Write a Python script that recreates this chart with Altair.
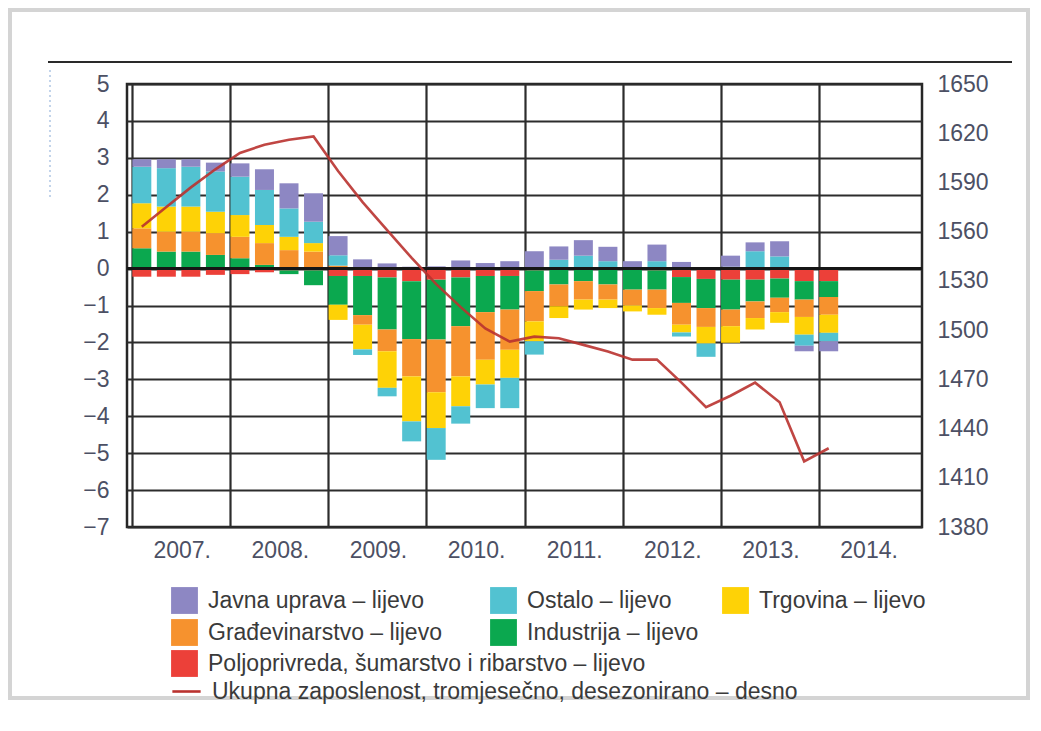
import altair as alt
import pandas as pd

quarters = ["2007Q1", "2007Q2", "2007Q3", "2007Q4",
            "2008Q1", "2008Q2", "2008Q3", "2008Q4",
            "2009Q1", "2009Q2", "2009Q3", "2009Q4",
            "2010Q1", "2010Q2", "2010Q3", "2010Q4",
            "2011Q1", "2011Q2", "2011Q3", "2011Q4",
            "2012Q1", "2012Q2", "2012Q3", "2012Q4",
            "2013Q1", "2013Q2", "2013Q3", "2013Q4",
            "2014Q1"]

poljoprivreda = [-0.22, -0.22, -0.22, -0.17, -0.15, -0.10, -0.05, -0.05,
                 -0.20, -0.20, -0.24, -0.34, -0.30, -0.24, -0.20, -0.20,
                 -0.05, -0.03, -0.02, -0.02, -0.03, -0.05, -0.23, -0.28,
                 -0.30, -0.30, -0.27, -0.34, -0.34]
industrija = [0.55, 0.46, 0.46, 0.37, 0.28, 0.10, -0.10, -0.40,
              -0.78, -1.06, -1.41, -1.57, -1.62, -1.32, -0.98, -0.91,
              -0.56, -0.40, -0.32, -0.41, -0.54, -0.52, -0.70, -0.79,
              -0.81, -0.59, -0.52, -0.50, -0.43]
gradevinarstvo = [0.54, 0.54, 0.54, 0.59, 0.58, 0.59, 0.50, 0.46,
                  0.08, -0.26, -0.59, -1.01, -1.43, -1.36, -1.29, -1.09,
                  -0.82, -0.59, -0.50, -0.41, -0.43, -0.50, -0.59, -0.51,
                  -0.45, -0.45, -0.39, -0.47, -0.48]
trgovina = [0.68, 0.68, 0.68, 0.58, 0.59, 0.49, 0.36, 0.23,
            -0.41, -0.67, -0.99, -1.22, -0.97, -0.81, -0.67, -0.76,
            -0.54, -0.32, -0.27, -0.23, -0.16, -0.18, -0.21, -0.45,
            -0.45, -0.31, -0.29, -0.48, -0.49]
ostalo = [0.99, 1.04, 1.08, 1.09, 1.04, 0.95, 0.77, 0.58,
          0.28, -0.15, -0.23, -0.54, -0.86, -0.47, -0.64, -0.82,
          -0.36, 0.24, 0.35, 0.20, 0.00, 0.20, -0.11, -0.36,
          0.05, 0.47, 0.33, -0.30, -0.23]
javna_uprava = [0.20, 0.24, 0.20, 0.24, 0.36, 0.56, 0.68, 0.77,
                0.52, 0.25, 0.14, 0.05, 0.06, 0.22, 0.15, 0.20,
                0.47, 0.36, 0.42, 0.39, 0.20, 0.45, 0.18, 0.00,
                0.30, 0.24, 0.41, -0.15, -0.27]
zaposlenost = [1563, 1575, 1587, 1598, 1608, 1613, 1616, 1618,
               1597, 1578, 1561, 1544, 1528, 1514, 1501, 1493,
               1496, 1495, 1491, 1487, 1482, 1482, 1468, 1453,
               1460, 1468, 1456, 1420, 1428]

sector_names = ["Poljoprivreda, šumarstvo i ribarstvo – lijevo",
                "Industrija – lijevo",
                "Građevinarstvo – lijevo",
                "Trgovina – lijevo",
                "Ostalo – lijevo",
                "Javna uprava – lijevo"]
sector_colors = ["#ec4039", "#0ba84f", "#f6922e", "#fed206", "#52c2d1", "#8d87c3"]
sector_series = [poljoprivreda, industrija, gradevinarstvo, trgovina, ostalo, javna_uprava]
line_name = "Ukupna zaposlenost, tromjesečno, desezonirano – desno"
line_color = "#b9322f"

left_ticks = [-7, -6, -5, -4, -3, -2, -1, 0, 1, 2, 3, 4, 5]
right_ticks = [1380, 1410, 1440, 1470, 1500, 1530, 1560, 1590, 1620, 1650]
year_ticks = [2007, 2008, 2009, 2010, 2011, 2012, 2013, 2014]


def qpos(q):
    return int(q[:4]) + (int(q[5]) - 0.6) / 4


rows = []
for k, (name, vals) in enumerate(zip(sector_names, sector_series)):
    for q, v in zip(quarters, vals):
        rows.append({"q": q, "t": qpos(q), "sector": name, "value": v, "ord": k})
df_bars = pd.DataFrame(rows)
df_line = pd.DataFrame({"q": quarters, "t": [qpos(q) for q in quarters],
                        "emp": zaposlenost, "series": line_name})
one = pd.DataFrame({"a": [0]})

FONT = "Liberation Sans, Arial, sans-serif"
W, H = 795, 443
GRID = "#2c2c2c"
LABEL = "#4c5064"

x_enc = alt.X("t:Q", scale=alt.Scale(domain=[2007, 2015], nice=False, zero=False),
              axis=alt.Axis(values=year_ticks, labelExpr="datum.value + '.'",
                            labelOffset=49.7, labelFlush=False, labelOverlap=False,
                            grid=True, gridColor=GRID, gridWidth=2.2, domain=False,
                            ticks=False, labelPadding=12, labelFontSize=23, labelFont=FONT,
                            labelColor=LABEL, title=None))

y_left = alt.Y("value:Q", stack="zero",
               scale=alt.Scale(domain=[-7, 5], nice=False),
               axis=alt.Axis(values=left_ticks, format="d", grid=True, gridColor=GRID,
                             gridWidth=2.2, domain=False, ticks=False, labelPadding=18,
                             labelOverlap=False, labelFontSize=23, labelFont=FONT,
                             labelColor=LABEL, title=None))

bars = alt.Chart(df_bars).mark_bar(size=19).encode(
    x=x_enc,
    y=y_left,
    color=alt.Color("sector:N", scale=alt.Scale(domain=sector_names, range=sector_colors),
                    legend=None),
    order=alt.Order("ord:Q", sort="ascending"),
)
# zero line drawn from the same bar data (aggregated to a single value 0 per view)
zero = alt.Chart(df_bars).transform_aggregate(
    n="count()"
).transform_calculate(value="0").mark_rule(color="#161616", strokeWidth=3).encode(
    y=alt.Y("value:Q", scale=alt.Scale(domain=[-7, 5], nice=False),
            axis=alt.Axis(values=left_ticks, format="d", grid=True, gridColor=GRID,
                          gridWidth=2.2, domain=False, ticks=False, labelPadding=18,
                          labelOverlap=False, labelFontSize=23, labelFont=FONT,
                          labelColor=LABEL, title=None))
)
left = alt.layer(bars, zero)


def legend_cfg(lx, ly, **kw):
    base = dict(orient="none", legendX=lx, legendY=ly, title=None, padding=0,
                labelFont=FONT, labelFontSize=23, labelColor="#3a3a3a",
                labelOffset=10, labelLimit=900, symbolOpacity=1)
    base.update(kw)
    return alt.Legend(**base)


line = alt.Chart(df_line).mark_line(strokeWidth=2.6, opacity=0.9).encode(
    x=x_enc,
    y=alt.Y("emp:Q", scale=alt.Scale(domain=[1380, 1650], nice=False, zero=False),
            axis=alt.Axis(orient="right", values=right_ticks, format="d", grid=False,
                          domain=False, ticks=False, labelPadding=15, labelOverlap=False,
                          labelFontSize=23, labelFont=FONT, labelColor=LABEL, title=None)),
    color=alt.Color("series:N", scale=alt.Scale(domain=[line_name], range=[line_color]),
                    legend=legend_cfg(44, 592, symbolType="stroke", symbolSize=800,
                                      symbolStrokeWidth=2.6,
                                      symbolStrokeColor=line_color)),
)

legend_pos = {
    "Javna uprava – lijevo": (44, 503),
    "Ostalo – lijevo": (363, 503),
    "Trgovina – lijevo": (595, 503),
    "Građevinarstvo – lijevo": (44, 535),
    "Industrija – lijevo": (363, 535),
    "Poljoprivreda, šumarstvo i ribarstvo – lijevo": (44, 566),
}
dummies = []
for name, col in zip(sector_names, sector_colors):
    lx, ly = legend_pos[name]
    dummies.append(
        alt.Chart(pd.DataFrame({"sector": [name]})).mark_square(opacity=0, size=1).encode(
            x=alt.value(0), y=alt.value(0),
            color=alt.Color("sector:N", scale=alt.Scale(domain=[name], range=[col]),
                            legend=legend_cfg(lx, ly, symbolType="square", symbolSize=720,
                                              symbolStrokeWidth=0)),
        )
    )

frame = alt.Chart(one).mark_rect(fillOpacity=0, stroke="#d4d4d4", strokeWidth=4).encode(
    x=alt.value(-117), x2=alt.value(901), y=alt.value(-74), y2=alt.value(614))
top_rule = alt.Chart(one).mark_rule(color="#2a2a2a", strokeWidth=2).encode(
    x=alt.value(-79), x2=alt.value(885), y=alt.value(-22))
dotted = alt.Chart(one).mark_rule(color="#86a9d6", strokeWidth=1, strokeDash=[2, 3]).encode(
    x=alt.value(-77), y=alt.value(-14), y2=alt.value(113))

chart = alt.layer(frame, top_rule, dotted, left, line, *dummies).resolve_scale(
    y="independent", color="independent"
).properties(width=W, height=H, padding=0, background="white").configure_view(
    stroke="#262626", strokeWidth=2.5
).configure_axis(labelOverlap=False)

chart.save("out.html", embed_options={"renderer": "svg", "actions": False})
